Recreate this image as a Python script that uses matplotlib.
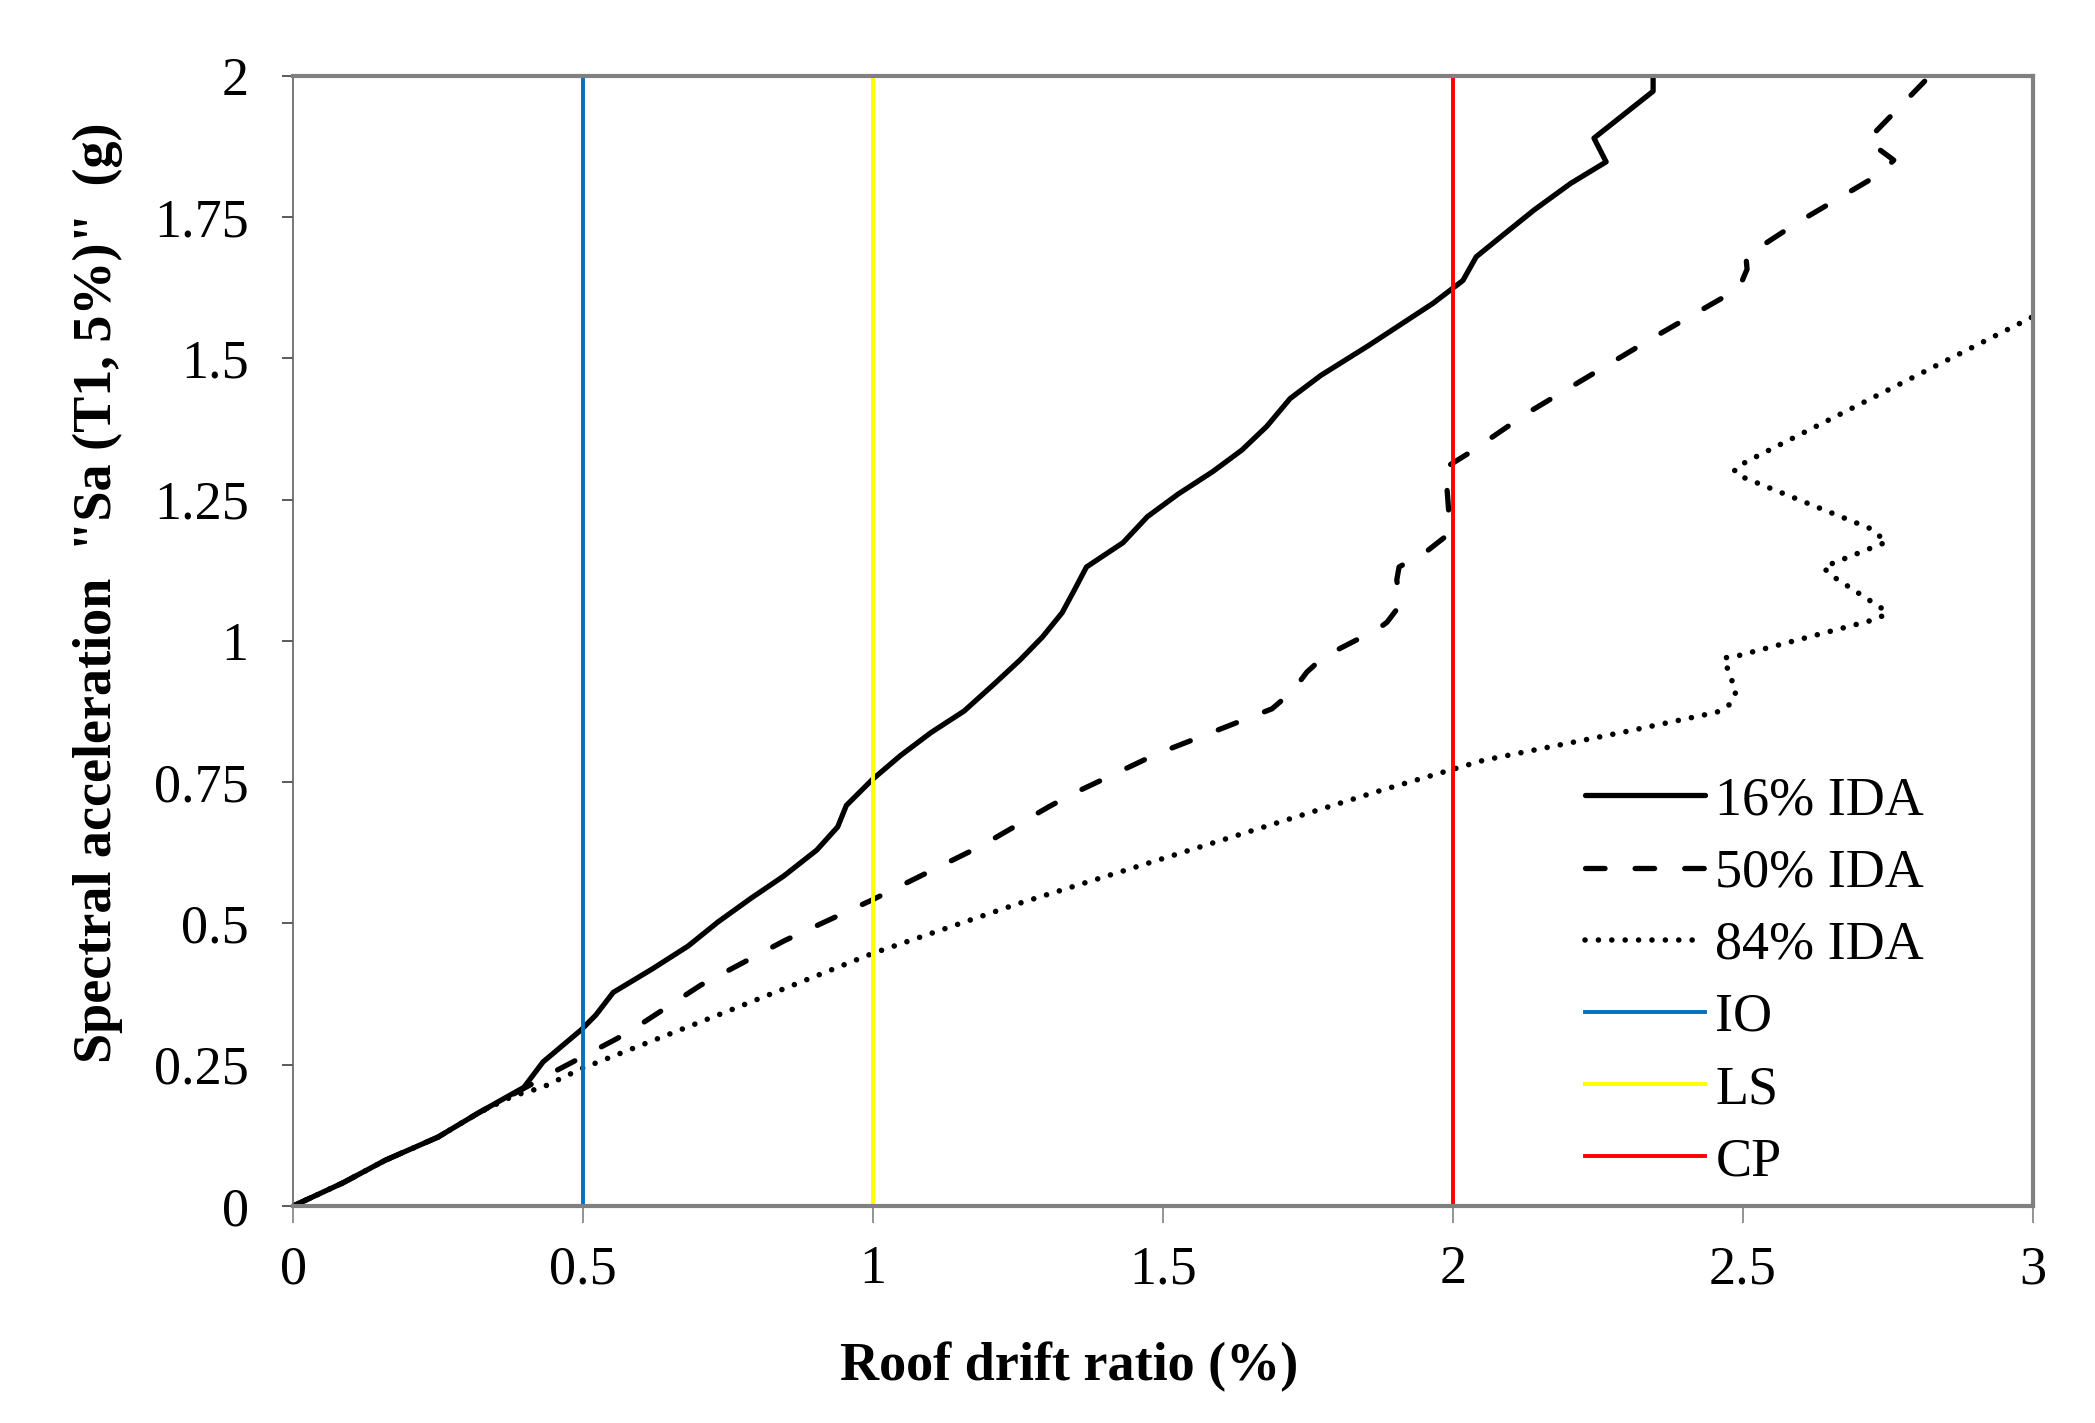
import matplotlib
matplotlib.use('Agg')
import matplotlib.pyplot as plt

# --------------------------
# data
# --------------------------
ida16_x = [0, 0.086, 0.159, 0.25, 0.32, 0.398, 0.431, 0.497, 0.522, 0.552, 0.62, 0.681, 0.733,
           0.79, 0.846, 0.903, 0.939, 0.954, 0.999, 1.047, 1.10, 1.157, 1.21, 1.253, 1.292, 1.326,
           1.347, 1.368, 1.431, 1.473, 1.526, 1.586, 1.636, 1.679, 1.719, 1.772, 1.853, 1.966,
           2.017, 2.04, 2.088, 2.14, 2.203, 2.264, 2.243, 2.345, 2.345]
ida16_y = [0, 0.041, 0.081, 0.122, 0.165, 0.21, 0.255, 0.312, 0.338, 0.378, 0.42, 0.46, 0.503,
           0.545, 0.584, 0.63, 0.671, 0.709, 0.755, 0.797, 0.838, 0.876, 0.925, 0.966, 1.007, 1.05,
           1.09, 1.131, 1.174, 1.22, 1.26, 1.30, 1.338, 1.38, 1.429, 1.47, 1.522, 1.598,
           1.638, 1.68, 1.72, 1.763, 1.81, 1.848, 1.89, 1.973, 2.0]

ida50_x = [0, 0.086, 0.159, 0.25, 0.32, 0.38, 0.449, 0.558, 0.594, 0.703, 0.848, 0.999, 1.186,
           1.302, 1.343, 1.489, 1.688, 1.724, 1.748, 1.777, 1.87, 1.886, 1.909, 1.903, 1.907,
           1.955, 1.991, 1.993, 1.99, 1.984, 2.028, 2.129, 2.347, 2.493, 2.507, 2.505, 2.593,
           2.735, 2.76, 2.714, 2.822]
ida50_y = [0, 0.041, 0.081, 0.122, 0.165, 0.198, 0.237, 0.296, 0.318, 0.391, 0.47, 0.542, 0.637,
           0.706, 0.729, 0.80, 0.88, 0.912, 0.945, 0.972, 1.021, 1.033, 1.064, 1.108, 1.131,
           1.159, 1.188, 1.223, 1.265, 1.305, 1.333, 1.404, 1.538, 1.624, 1.658, 1.681, 1.74,
           1.826, 1.851, 1.886, 2.0]

ida84_x = [0, 0.086, 0.159, 0.25, 0.32, 0.38, 0.43, 0.497, 0.75, 0.999, 1.25, 1.5, 1.874, 2.053,
           2.3, 2.455, 2.476, 2.488, 2.473, 2.467, 2.488, 2.72, 2.747, 2.739, 2.648, 2.639, 2.722,
           2.747, 2.722, 2.49, 2.485, 2.505, 3.0]
ida84_y = [0, 0.041, 0.081, 0.122, 0.165, 0.195, 0.21, 0.243, 0.345, 0.447, 0.535, 0.615, 0.735,
           0.789, 0.84, 0.874, 0.887, 0.91, 0.952, 0.97, 0.973, 1.036, 1.047, 1.058, 1.119, 1.131,
           1.165, 1.175, 1.198, 1.294, 1.303, 1.317, 1.574]

limit_names = ['IO', 'LS', 'CP']
limit_drift = [0.5, 1.0, 2.0]
limit_colors = ['#0070C0', '#FFFF00', '#FF0000']

x_ticks = [0, 0.5, 1, 1.5, 2, 2.5, 3]
y_ticks = [0, 0.25, 0.5, 0.75, 1, 1.25, 1.5, 1.75, 2]

# --------------------------
# plot
# --------------------------
plt.rcParams['font.family'] = ['Liberation Serif', 'DejaVu Serif']
fs = 39

fig = plt.figure(figsize=(20.95, 14.23), dpi=100)
ax = fig.add_axes([0.1399, 0.1525, 0.8305, 0.7941])

ax.plot(ida16_x, ida16_y, color='black', lw=3.8, label='16% IDA', solid_capstyle='round')
ax.plot(ida50_x, ida50_y, color='black', lw=3.8, linestyle=(0, (3.7, 5.7)),
        dash_capstyle='round', label='50% IDA')
ax.plot(ida84_x, ida84_y, color='black', lw=4.0, linestyle=(0, (0.01, 2.4)),
        dash_capstyle='round', label='84% IDA')
for name, d, c in zip(limit_names, limit_drift, limit_colors):
    ax.plot([d, d], [0, 2], color=c, lw=2.8, label=name, clip_on=False)

ax.set_xlim(0, 3)
ax.set_ylim(0, 2)
ax.set_xticks(x_ticks)
ax.set_xticklabels([f'{t:g}' for t in x_ticks])
ax.set_yticks(y_ticks)
ax.set_yticklabels([f'{t:g}' for t in y_ticks])
ax.tick_params(axis='x', direction='out', length=12, width=1.2, color='#808080',
               labelsize=fs, pad=16)
ax.tick_params(axis='y', direction='out', length=8, width=1.2, color='#404040',
               labelsize=fs, pad=24)

for side in ['top', 'right', 'bottom']:
    ax.spines[side].set_color('#808080')
    ax.spines[side].set_linewidth(3)
ax.spines['left'].set_color('#606060')
ax.spines['left'].set_linewidth(1.2)

ax.set_xlabel('Roof drift ratio (%)', fontsize=fs, fontweight='bold')
ax.set_ylabel('Spectral acceleration  "Sa (T1, 5%)"  (g)', fontsize=fs, fontweight='bold')
ax.xaxis.set_label_coords(0.446, -0.12)
ax.yaxis.set_label_coords(-0.098, 0.543)

ax.legend(loc='lower left', bbox_to_anchor=(0.721, -0.017), frameon=False, fontsize=fs,
          handlelength=2.2, handletextpad=0.2, labelspacing=0.40, borderaxespad=0.3)

fig.savefig('out.png', dpi=100)
